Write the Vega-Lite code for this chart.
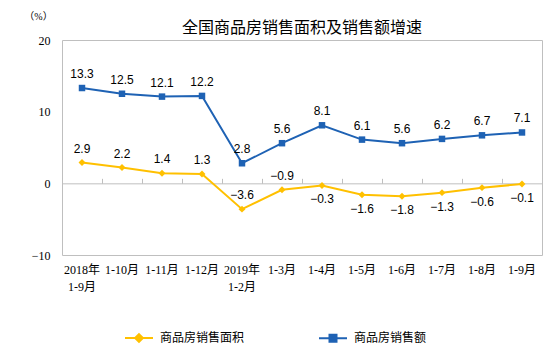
{
  "$schema": "https://vega.github.io/schema/vega-lite/v6.json",
  "width": 480,
  "height": 215,
  "autosize": {"type": "none"},
  "padding": {"left": 62, "top": 40, "right": 12, "bottom": 103},
  "background": "white",
  "title": {"text": "全国商品房销售面积及销售额增速", "font": "Noto Sans CJK SC", "fontSize": 16, "fontWeight": "normal", "color": "#000000", "anchor": "middle", "offset": -25},
  "config": {"view": {"stroke": "#bfbfbf"}, "axis": {"grid": false}},
  "data": {"values": [
    {"m": "2018年 1-9月", "s": "商品房销售面积", "v": 2.9},
    {"m": "1-10月", "s": "商品房销售面积", "v": 2.2},
    {"m": "1-11月", "s": "商品房销售面积", "v": 1.4},
    {"m": "1-12月", "s": "商品房销售面积", "v": 1.3},
    {"m": "2019年 1-2月", "s": "商品房销售面积", "v": -3.6},
    {"m": "1-3月", "s": "商品房销售面积", "v": -0.9},
    {"m": "1-4月", "s": "商品房销售面积", "v": -0.3},
    {"m": "1-5月", "s": "商品房销售面积", "v": -1.6},
    {"m": "1-6月", "s": "商品房销售面积", "v": -1.8},
    {"m": "1-7月", "s": "商品房销售面积", "v": -1.3},
    {"m": "1-8月", "s": "商品房销售面积", "v": -0.6},
    {"m": "1-9月", "s": "商品房销售面积", "v": -0.1},
    {"m": "2018年 1-9月", "s": "商品房销售额", "v": 13.3},
    {"m": "1-10月", "s": "商品房销售额", "v": 12.5},
    {"m": "1-11月", "s": "商品房销售额", "v": 12.1},
    {"m": "1-12月", "s": "商品房销售额", "v": 12.2},
    {"m": "2019年 1-2月", "s": "商品房销售额", "v": 2.8},
    {"m": "1-3月", "s": "商品房销售额", "v": 5.6},
    {"m": "1-4月", "s": "商品房销售额", "v": 8.1},
    {"m": "1-5月", "s": "商品房销售额", "v": 6.1},
    {"m": "1-6月", "s": "商品房销售额", "v": 5.6},
    {"m": "1-7月", "s": "商品房销售额", "v": 6.2},
    {"m": "1-8月", "s": "商品房销售额", "v": 6.7},
    {"m": "1-9月", "s": "商品房销售额", "v": 7.1}
  ]},
  "resolve": {"axis": {"x": "independent"}},
  "layer": [
    {
      "mark": {"type": "line", "strokeWidth": 2},
      "encoding": {
        "x": {"field": "m", "type": "ordinal", "sort": null,
              "scale": {"type": "band", "paddingInner": 0, "paddingOuter": 0},
              "axis": {"orient": "bottom", "title": null, "labelExpr": "split(datum.value, ' ')", "labelAngle": 0, "ticks": false, "domain": false,
                       "labelFont": "Liberation Serif, Noto Sans CJK SC", "labelFontSize": 12, "labelColor": "#000000", "labelPadding": 9, "labelLineHeight": 17, "labelLimit": 0}},
        "y": {"field": "v", "type": "quantitative",
              "scale": {"domain": [-10, 20], "nice": false, "zero": false},
              "axis": {"title": "（%）", "titleAngle": 0, "titleX": -24, "titleY": -24, "titleAlign": "center", "titleBaseline": "middle",
                       "titleFont": "Liberation Serif, Noto Sans CJK SC", "titleFontSize": 10, "titleFontWeight": "normal", "titleColor": "#000000",
                       "values": [-10, 0, 10, 20], "labelFont": "Liberation Serif", "labelFontSize": 12, "labelColor": "#000000",
                       "ticks": false, "domain": false, "labelPadding": 12}},
        "color": {"field": "s", "type": "nominal",
                  "scale": {"domain": ["商品房销售面积", "商品房销售额"], "range": ["#FFC000", "#1E62B4"]},
                  "legend": {"orient": "none", "legendX": 62, "legendY": 283, "direction": "horizontal", "title": null,
                             "symbolType": "M-1,0H1", "symbolSize": 784, "symbolStrokeWidth": 2,
                             "labelFont": "Noto Sans CJK SC", "labelFontSize": 12, "labelColor": "#000000", "labelOffset": 6, "columnPadding": 70,
                             "encode": {"symbols": {"update": {
                               "shape": {"signal": "datum.value == '商品房销售面积' ? 'M-1,0H1M0,-0.28L0.28,0L0,0.28L-0.28,0Z' : 'M-1,0H1M-0.25,-0.25H0.25V0.25H-0.25Z'"},
                               "fill": {"signal": "datum.value == '商品房销售面积' ? '#FFC000' : '#1E62B4'"},
                               "stroke": {"signal": "datum.value == '商品房销售面积' ? '#FFC000' : '#1E62B4'"},
                               "opacity": {"value": 1}
                             }}}}}
      }
    },
    {
      "transform": [{"filter": "datum.s == '商品房销售面积'"}],
      "mark": {"type": "point", "shape": "diamond", "filled": true, "opacity": 1, "size": 48},
      "encoding": {
        "x": {"field": "m", "type": "ordinal", "sort": null,
              "axis": {"orient": "top", "offset": -143.33, "labels": false, "title": null, "ticks": true, "tickBand": "extent", "tickSize": 5, "tickColor": "#bfbfbf", "domain": true, "domainColor": "#bfbfbf"}},
        "y": {"field": "v", "type": "quantitative"},
        "color": {"field": "s", "type": "nominal"}
      }
    },
    {
      "transform": [{"filter": "datum.s == '商品房销售额'"}],
      "mark": {"type": "point", "shape": "square", "filled": true, "opacity": 1, "size": 42},
      "encoding": {
        "x": {"field": "m", "type": "ordinal", "sort": null, "axis": null},
        "y": {"field": "v", "type": "quantitative"},
        "color": {"field": "s", "type": "nominal"}
      }
    },
    {
      "transform": [{"filter": "datum.s == '商品房销售额' || indexof(['2018年 1-9月','1-10月','1-11月','1-12月','2019年 1-2月','1-3月'], datum.m) >= 0"}],
      "mark": {"type": "text", "dy": -14, "font": "Liberation Sans", "fontSize": 12, "color": "#000000"},
      "encoding": {
        "x": {"field": "m", "type": "ordinal", "sort": null, "axis": null},
        "y": {"field": "v", "type": "quantitative"},
        "text": {"field": "v", "type": "quantitative", "format": ".1f"}
      }
    },
    {
      "transform": [{"filter": "datum.s == '商品房销售面积' && indexof(['2018年 1-9月','1-10月','1-11月','1-12月','2019年 1-2月','1-3月'], datum.m) < 0"}],
      "mark": {"type": "text", "dy": 14, "font": "Liberation Sans", "fontSize": 12, "color": "#000000"},
      "encoding": {
        "x": {"field": "m", "type": "ordinal", "sort": null, "axis": null},
        "y": {"field": "v", "type": "quantitative"},
        "text": {"field": "v", "type": "quantitative", "format": ".1f"}
      }
    }
  ]
}
